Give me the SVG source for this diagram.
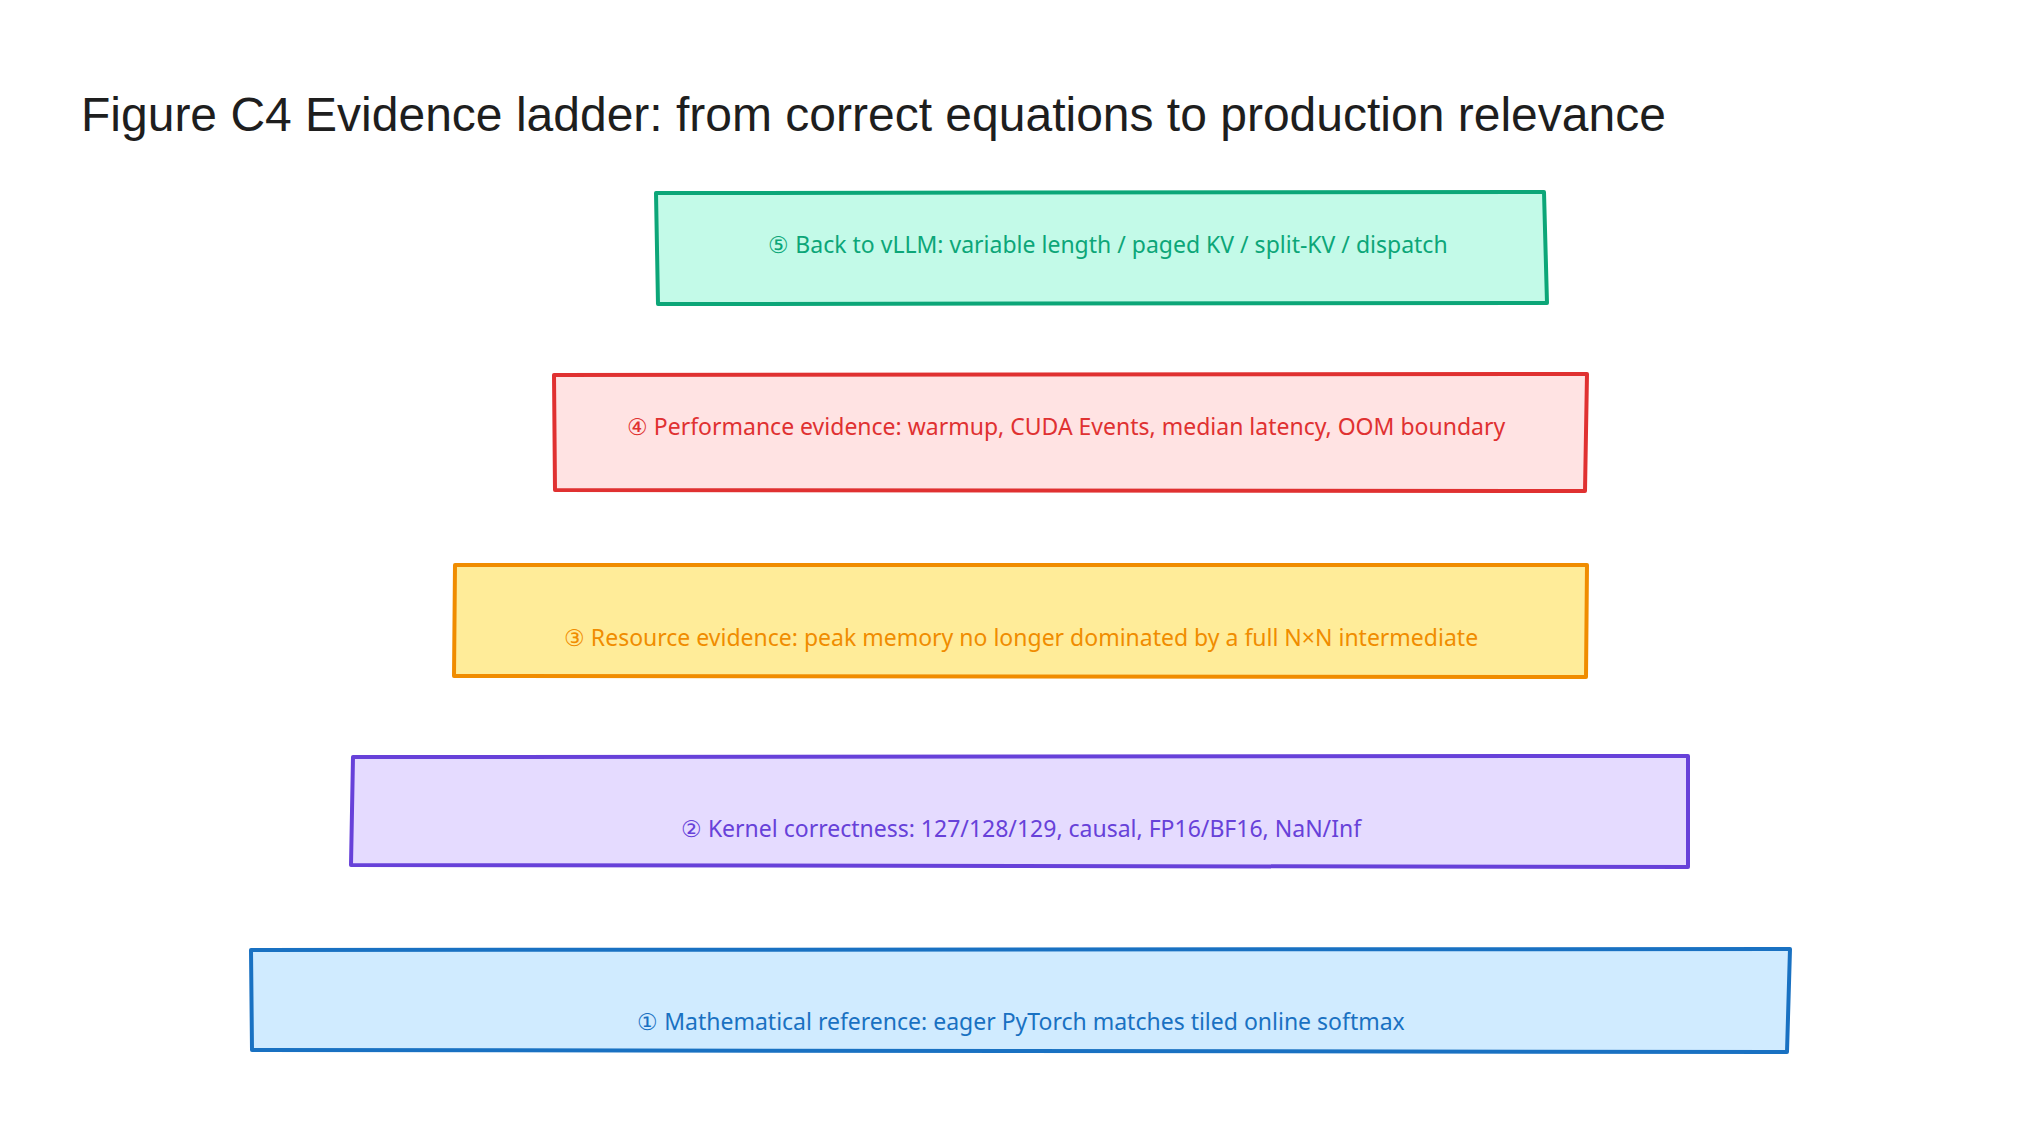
<svg xmlns="http://www.w3.org/2000/svg" width="2020" height="1130" viewBox="0 0 2020 1130">
<style>
.t{font-family:"Noto Sans","Open Sans",sans-serif;font-size:23px;text-anchor:middle}
.b{stroke-width:4;stroke-linejoin:round}
</style>
<rect width="2020" height="1130" fill="#fff"/>
<text x="81" y="131" font-family="Liberation Sans, Arial, sans-serif" font-size="48" fill="#1e1e1e">Figure C4 Evidence ladder: from correct equations to production relevance</text>
<g id="n5"><path class="b" d="M656 193 L1544 192 L1547 303 L658 304 Z" fill="#c3fae8" stroke="#0ca678"/><text class="t" x="1108" y="253" fill="#0ca678">⑤ Back to vLLM: variable length / paged KV / split-KV / dispatch</text></g>
<g id="n4"><path class="b" d="M554 375 L1587 374 L1585 491 L555 490 Z" fill="#ffe3e3" stroke="#e03131"/><text class="t" x="1066" y="435" fill="#e03131">④ Performance evidence: warmup, CUDA Events, median latency, OOM boundary</text></g>
<g id="n3"><path class="b" d="M455 565 L1587 565 L1586 677 L454 676 Z" fill="#ffec99" stroke="#f08c00"/><text class="t" x="1021" y="646" fill="#f08c00">③ Resource evidence: peak memory no longer dominated by a full N×N intermediate</text></g>
<g id="n2"><path class="b" d="M353 757 L1688 756 L1688 867 L351 865 Z" fill="#e5dbff" stroke="#6741d9"/><text class="t" x="1021" y="837" fill="#6741d9">② Kernel correctness: 127/128/129, causal, FP16/BF16, NaN/Inf</text></g>
<g id="n1"><path class="b" d="M251 950 L1790 949 L1787 1052 L252 1050 Z" fill="#d0ebff" stroke="#1971c2"/><text class="t" x="1021" y="1030" fill="#1971c2">① Mathematical reference: eager PyTorch matches tiled online softmax</text></g>
<g id="connectors"/>
</svg>
